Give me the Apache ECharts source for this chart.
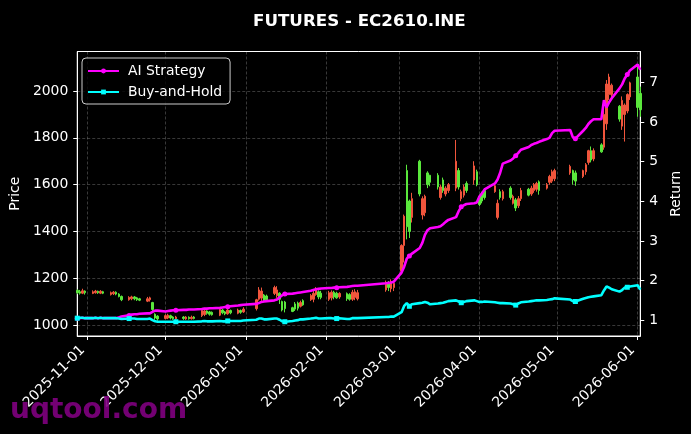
<!DOCTYPE html>
<html>
<head>
<meta charset="utf-8">
<title>FUTURES - EC2610.INE</title>
<script src="https://cdn.jsdelivr.net/npm/echarts@6.0.0/dist/echarts.min.js"></script>
<style>
  html, body { margin: 0; padding: 0; background: #000; }
  #main { width: 691px; height: 434px; }
</style>
</head>
<body>
<div id="main"></div>
<script>
// trading calendar
var startDay = '2025-10-28', endDay = '2026-06-02';
var holidays = ['2026-01-01', '2026-01-02', '2026-02-16', '2026-02-17', '2026-02-18', '2026-02-19',
    '2026-02-20', '2026-02-23', '2026-04-06', '2026-05-01', '2026-05-04', '2026-05-05'];
var monthTicks = ['2025-11-01', '2025-12-01', '2026-01-01', '2026-02-01', '2026-03-01', '2026-04-01', '2026-05-01', '2026-06-01'];
var priceTicks = [1000, 1200, 1400, 1600, 1800, 2000];
var returnTicks = [1, 2, 3, 4, 5, 6, 7];

// [open, close, low, high] per trading day
var ohlc = [
    // Oct 28-31
    [1148, 1138, 1132, 1152], [1142, 1136, 1130, 1150], [1136, 1146, 1132, 1155], [1145, 1138, 1130, 1148],
    // Nov 3-7
    [1135, 1142, 1132, 1148], [1138, 1145, 1134, 1150], [1144, 1138, 1133, 1147], [1136, 1144, 1132, 1149], [1142, 1136, 1132, 1146],
    // Nov 10-14
    [1130, 1138, 1126, 1143], [1134, 1140, 1128, 1145], [1140, 1132, 1127, 1144], [1132, 1122, 1118, 1136], [1122, 1108, 1102, 1126],
    // Nov 17-21
    [1108, 1118, 1104, 1123], [1112, 1120, 1106, 1125], [1120, 1112, 1106, 1124], [1116, 1108, 1103, 1120], [1112, 1106, 1102, 1116],
    // Nov 24-28
    [1102, 1112, 1098, 1120], [1108, 1116, 1100, 1121], [1096, 1066, 1060, 1099], [1046, 1030, 1022, 1050], [1038, 1026, 1018, 1042],
    // Dec 1-5
    [1028, 1040, 1024, 1046], [1030, 1042, 1025, 1048], [1040, 1030, 1024, 1044], [1034, 1027, 1022, 1038], [1026, 1034, 1022, 1039],
    // Dec 8-12
    [1034, 1028, 1022, 1038], [1026, 1034, 1022, 1038], [1033, 1027, 1023, 1037], [1027, 1033, 1023, 1040], [1034, 1028, 1024, 1038],
    // Dec 15-19
    [1040, 1062, 1034, 1070], [1045, 1060, 1038, 1066], [1060, 1050, 1044, 1063], [1056, 1046, 1040, 1060], [1054, 1044, 1040, 1058],
    // Dec 22-26
    [1042, 1066, 1038, 1073], [1064, 1052, 1046, 1068], [1056, 1048, 1042, 1060], [1048, 1064, 1044, 1070], [1062, 1052, 1046, 1066],
    // Dec 29-31
    [1050, 1064, 1046, 1070], [1062, 1054, 1048, 1066], [1056, 1068, 1052, 1076],
    // Jan 5-9
    [1070, 1108, 1062, 1112], [1110, 1150, 1104, 1162], [1115, 1145, 1103, 1160], [1128, 1106, 1100, 1132], [1124, 1108, 1100, 1130],
    // Jan 12-16
    [1135, 1160, 1128, 1168], [1125, 1150, 1116, 1166], [1136, 1110, 1090, 1140], [1100, 1064, 1058, 1104], [1098, 1070, 1054, 1103],
    // Jan 19-23
    [1074, 1058, 1055, 1078], [1090, 1068, 1060, 1098], [1094, 1072, 1062, 1100], [1080, 1096, 1075, 1104], [1104, 1086, 1082, 1110],
    // Jan 26-30
    [1108, 1126, 1103, 1132], [1110, 1135, 1097, 1146], [1130, 1155, 1125, 1162], [1142, 1120, 1110, 1148], [1136, 1118, 1110, 1146],
    // Feb 2-6
    [1110, 1138, 1103, 1146], [1116, 1140, 1105, 1148], [1140, 1120, 1110, 1146], [1136, 1116, 1112, 1142], [1120, 1135, 1112, 1140],
    // Feb 9-13
    [1134, 1112, 1103, 1139], [1130, 1110, 1104, 1136], [1110, 1140, 1103, 1150], [1118, 1142, 1106, 1153], [1112, 1138, 1105, 1150],
    // Feb 24-27
    [1150, 1175, 1142, 1190], [1180, 1160, 1145, 1188], [1155, 1180, 1140, 1195], [1160, 1178, 1145, 1186],
    // Mar 2-6
    [1230, 1340, 1217, 1345], [1340, 1465, 1267, 1472], [1660, 1420, 1366, 1685], [1530, 1400, 1372, 1536], [1460, 1540, 1438, 1565],
    // Mar 9-13
    [1700, 1560, 1550, 1706], [1470, 1540, 1451, 1550], [1480, 1550, 1465, 1557], [1650, 1600, 1585, 1657], [1640, 1610, 1593, 1642],
    // Mar 16-20
    [1640, 1590, 1579, 1649], [1545, 1590, 1536, 1600], [1620, 1575, 1565, 1630], [1560, 1585, 1550, 1593], [1575, 1600, 1565, 1607],
    // Mar 23-27
    [1585, 1700, 1572, 1791], [1660, 1590, 1579, 1671], [1540, 1570, 1529, 1579], [1555, 1590, 1545, 1600], [1605, 1575, 1565, 1614],
    // Mar 30 - Apr 3
    [1620, 1680, 1600, 1700], [1655, 1600, 1593, 1664], [1550, 1515, 1508, 1557], [1560, 1530, 1520, 1570], [1575, 1545, 1536, 1582],
    // Apr 7-10
    [1570, 1595, 1565, 1600], [1460, 1520, 1451, 1536], [1570, 1545, 1536, 1580], [1540, 1570, 1532, 1578],
    // Apr 13-17
    [1585, 1545, 1536, 1593], [1520, 1550, 1515, 1557], [1535, 1500, 1487, 1543], [1510, 1540, 1500, 1551], [1540, 1575, 1530, 1586],
    // Apr 20-24
    [1580, 1555, 1550, 1586], [1560, 1585, 1552, 1595], [1575, 1600, 1565, 1607], [1580, 1605, 1570, 1612], [1612, 1575, 1557, 1618],
    // Apr 27-30
    [1585, 1600, 1579, 1607], [1610, 1635, 1600, 1642], [1615, 1655, 1607, 1664], [1625, 1660, 1615, 1668],
    // May 6-8
    [1650, 1678, 1642, 1685], [1660, 1620, 1600, 1664], [1650, 1615, 1595, 1660],
    // May 11-15
    [1635, 1660, 1628, 1664], [1655, 1685, 1642, 1692], [1695, 1745, 1685, 1749], [1745, 1705, 1695, 1763], [1710, 1745, 1700, 1755],
    // May 18-22
    [1770, 1740, 1736, 1777], [1760, 1900, 1749, 1919], [1860, 2030, 1834, 2047], [1985, 2060, 1962, 2074], [1985, 2025, 1975, 2032],
    // May 25-29
    [1935, 1880, 1869, 1940], [1850, 1960, 1834, 1977], [1900, 1940, 1784, 1947], [1915, 1985, 1905, 1990], [1975, 2035, 1962, 2040],
    // Jun 1-2
    [2060, 1930, 1890, 2105], [1990, 1920, 1890, 2019]
];

var aiReturn = [
    1.05, 1.05, 1.06, 1.05,
    1.05, 1.06, 1.05, 1.06, 1.05,
    1.05, 1.05, 1.05, 1.07, 1.09,
    1.12, 1.14, 1.15, 1.15, 1.16,
    1.17, 1.17, 1.21, 1.24, 1.24,
    1.22, 1.23, 1.24, 1.25, 1.25,
    1.26, 1.26, 1.27, 1.27, 1.27,
    1.28, 1.29, 1.29, 1.30, 1.30,
    1.31, 1.32, 1.33, 1.34, 1.35,
    1.37, 1.38, 1.39,
    1.41, 1.43, 1.46, 1.47, 1.48,
    1.50, 1.52, 1.58, 1.63, 1.66,
    1.67, 1.68, 1.69, 1.70, 1.71,
    1.74, 1.76, 1.78, 1.79, 1.80,
    1.81, 1.81, 1.82, 1.82, 1.83,
    1.84, 1.85, 1.86, 1.87, 1.87,
    1.93, 1.94, 1.95, 1.97,
    2.20, 2.35, 2.55, 2.62, 2.68,
    2.82, 2.95, 3.15, 3.27, 3.32,
    3.35, 3.37, 3.42, 3.48, 3.53,
    3.60, 3.75, 3.86, 3.90, 3.93,
    3.95, 3.97, 4.12, 4.20, 4.30,
    4.45, 4.55, 4.72, 4.95,
    5.03, 5.08, 5.15, 5.22, 5.30,
    5.37, 5.42, 5.45, 5.47, 5.50,
    5.57, 5.60, 5.72, 5.78,
    5.80, 5.62, 5.58,
    5.78, 5.85, 5.95, 6.02, 6.07,
    6.07, 6.55, 6.37, 6.50, 6.60,
    6.85, 6.95, 7.10, 7.20, 7.30,
    7.45, 7.32
];

var bhReturn = [
    1.05, 1.06, 1.06, 1.05,
    1.05, 1.06, 1.05, 1.06, 1.05,
    1.05, 1.05, 1.05, 1.04, 1.03,
    1.04, 1.04, 1.04, 1.03, 1.03,
    1.03, 1.04, 1.00, 0.97, 0.96,
    0.96, 0.96, 0.96, 0.96, 0.96,
    0.96, 0.96, 0.96, 0.96, 0.96,
    0.97, 0.98, 0.97, 0.97, 0.97,
    0.98, 0.97, 0.97, 0.98, 0.98,
    0.98, 0.98, 0.99,
    1.01, 1.04, 1.04, 1.02, 1.02,
    1.04, 1.04, 1.01, 0.97, 0.96,
    0.98, 0.99, 1.00, 1.02, 1.02,
    1.04, 1.05, 1.06, 1.04, 1.04,
    1.05, 1.05, 1.04, 1.04, 1.05,
    1.03, 1.03, 1.05, 1.05, 1.05,
    1.08, 1.08, 1.09, 1.09,
    1.20, 1.36, 1.43, 1.35, 1.40,
    1.43, 1.44, 1.46, 1.44, 1.40,
    1.42, 1.43, 1.44, 1.46, 1.48,
    1.50, 1.47, 1.44, 1.46, 1.48,
    1.50, 1.48, 1.46, 1.46, 1.47,
    1.45, 1.44, 1.43, 1.43,
    1.42, 1.40, 1.38, 1.42, 1.45,
    1.47, 1.48, 1.49, 1.50, 1.50,
    1.51, 1.52, 1.53, 1.55,
    1.52, 1.48, 1.47,
    1.54, 1.56, 1.58, 1.59, 1.60,
    1.63, 1.75, 1.85, 1.82, 1.78,
    1.72, 1.76, 1.82, 1.83, 1.85,
    1.88, 1.77
];

var font = 'DejaVu Sans';
var upColor = '#f0553c', downColor = '#5ae83c';

function toTs(s) {
    var p = s.split('-');
    return new Date(+p[0], +p[1] - 1, +p[2]).getTime();
}
function pad(n) { return n < 10 ? '0' + n : '' + n; }
function fmtDay(v) {
    var d = new Date(v);
    return d.getFullYear() + '-' + pad(d.getMonth() + 1) + '-' + pad(d.getDate());
}

// build trading days (weekdays minus exchange holidays)
var days = [];
var cur = new Date(toTs(startDay));
while (cur.getTime() <= toTs(endDay)) {
    var wd = cur.getDay();
    if (wd !== 0 && wd !== 6 && holidays.indexOf(fmtDay(cur.getTime())) < 0) days.push(cur.getTime());
    cur.setDate(cur.getDate() + 1);
}

var candleData = days.map(function (t, i) { return [t].concat(ohlc[i]); });
var markEvery = 14;
var aiData = days.map(function (t, i) {
    return { value: [t, aiReturn[i]], symbol: i % markEvery === 0 ? 'circle' : 'none' };
});
var bhData = days.map(function (t, i) {
    return { value: [t, bhReturn[i]], symbol: i % markEvery === 0 ? 'rect' : 'none' };
});
var monthTs = monthTicks.map(toTs);

var chart = echarts.init(document.getElementById('main'));
var gridLine = { show: true, lineStyle: { color: 'rgba(255,255,255,0.28)', type: [3, 2], width: 0.8 } };

chart.setOption({
    backgroundColor: '#000',
    animation: false,
    title: {
        text: 'FUTURES - EC2610.INE',
        left: 248, top: 8,
        textStyle: { color: '#fff', fontFamily: font, fontWeight: 'bold', fontSize: 16.7 }
    },
    legend: {
        data: ['AI Strategy', 'Buy-and-Hold'],
        orient: 'vertical',
        left: 82, top: 58,
        padding: [6, 8, 5, 5],
        itemWidth: 31, itemHeight: 6, itemGap: 7,
        backgroundColor: 'rgba(0,0,0,0.8)',
        borderColor: '#cccccc', borderWidth: 1, borderRadius: 4,
        textStyle: { color: '#fff', fontFamily: font, fontSize: 13.9, padding: [0, 0, 0, 4] }
    },
    grid: {
        left: 77, right: 48.5, top: 51.5, bottom: 98,
        show: true, borderColor: '#fff', borderWidth: 1, backgroundColor: '#000'
    },
    xAxis: {
        type: 'value',
        min: toTs(startDay), max: toTs(endDay),
        axisLine: { show: true, lineStyle: { color: '#fff' } },
        axisTick: { show: true, length: 4, lineStyle: { color: '#fff' }, customValues: monthTs },
        axisLabel: {
            customValues: monthTs, rotate: 45, color: '#fff', fontFamily: font, fontSize: 13.9,
            margin: 17, align: 'right', verticalAlign: 'bottom', formatter: fmtDay
        },
        splitLine: gridLine
    },
    yAxis: [{
        type: 'value', position: 'left',
        min: 953, max: 2169,
        name: 'Price', nameLocation: 'middle', nameGap: 53, nameRotate: 90,
        nameTextStyle: { color: '#fff', fontFamily: font, fontSize: 13.9 },
        axisLine: { show: true, lineStyle: { color: '#fff' } },
        axisTick: { show: true, length: 4, lineStyle: { color: '#fff' }, customValues: priceTicks },
        axisLabel: {
            customValues: priceTicks, color: '#fff', fontFamily: font, fontSize: 13.9, margin: 9,
            formatter: function (v) { return String(v); }
        },
        splitLine: gridLine
    }, {
        type: 'value', position: 'right',
        min: 0.6, max: 7.78,
        name: 'Return', nameLocation: 'middle', nameGap: 22, nameRotate: 90,
        nameTextStyle: { color: '#fff', fontFamily: font, fontSize: 13.9 },
        axisLine: { show: true, lineStyle: { color: '#fff' } },
        axisTick: { show: true, length: 4, lineStyle: { color: '#fff' }, customValues: returnTicks },
        axisLabel: {
            customValues: returnTicks, color: '#fff', fontFamily: font, fontSize: 13.9, margin: 9,
            formatter: function (v) { return String(v); }
        },
        splitLine: { show: false }
    }],
    series: [{
        name: 'Price',
        type: 'candlestick',
        yAxisIndex: 0,
        barWidth: 2,
        encode: { x: 0, y: [1, 2, 3, 4] },
        itemStyle: { color: upColor, color0: downColor, borderColor: upColor, borderColor0: downColor, borderWidth: 1 },
        data: candleData,
        z: 2
    }, {
        name: 'AI Strategy',
        type: 'line',
        yAxisIndex: 1,
        symbol: 'circle', symbolSize: 5,
        color: '#ff00ff',
        lineStyle: { color: '#ff00ff', width: 2.6 },
        itemStyle: { color: '#ff00ff' },
        data: aiData,
        z: 3
    }, {
        name: 'Buy-and-Hold',
        type: 'line',
        yAxisIndex: 1,
        symbol: 'rect', symbolSize: 5,
        color: '#00ffff',
        lineStyle: { color: '#00ffff', width: 2.6 },
        itemStyle: { color: '#00ffff' },
        data: bhData,
        z: 4
    }],
    graphic: [{
        type: 'text',
        left: 10, top: 397,
        z: 100,
        style: { text: 'uqtool.com', fill: 'rgba(128,0,128,0.9)', font: 'bold 28px "DejaVu Sans"' }
    }]
});
</script>
</body>
</html>
